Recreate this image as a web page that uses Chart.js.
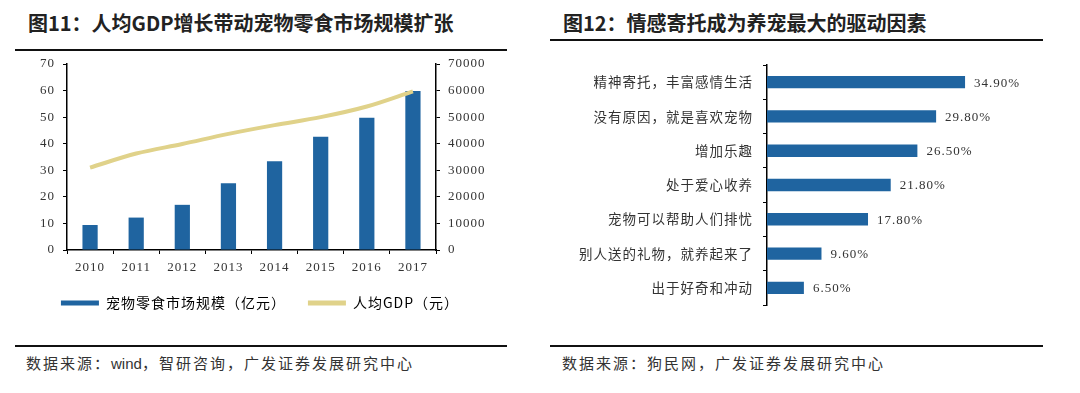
<!DOCTYPE html>
<html>
<head>
<meta charset="utf-8">
<script src="https://cdn.jsdelivr.net/npm/chart.js@4.4.0/dist/chart.umd.min.js"></script>
<style>
  body { margin: 0; background: #fff; width: 1080px; height: 393px; position: relative; overflow: hidden; }
  .title { position: absolute; top: 8px; font-family: "Noto Sans CJK SC", sans-serif; font-weight: bold; font-size: 20px; line-height: 30px; color: #222; white-space: nowrap; }
  .rule { position: absolute; height: 2px; background: #111; }
  .source { position: absolute; top: 352px; font-family: "Noto Sans CJK SC", sans-serif; font-size: 15px; line-height: 22px; letter-spacing: 2px; color: #333; white-space: nowrap; }
  .source b { font-family: "Liberation Sans", sans-serif; font-weight: normal; letter-spacing: 0; }
  canvas { position: absolute; }
</style>
</head>
<body>
<div class="title" style="left:28px">图11：人均GDP增长带动宠物零食市场规模扩张</div>
<div class="rule" style="left:15px; top:49px; width:492px"></div>
<canvas id="chart1" width="520" height="265" style="left:0; top:55px; width:520px; height:265px"></canvas>
<div class="rule" style="left:15px; top:345px; width:492px"></div>
<div class="source" style="left:26px">数据来源：<b>wind</b>，智研咨询，广发证券发展研究中心</div>

<div class="title" style="left:563px">图12：情感寄托成为养宠最大的驱动因素</div>
<div class="rule" style="left:550px; top:39px; width:493px"></div>
<canvas id="chart2" width="540" height="260" style="left:540px; top:55px; width:540px; height:260px"></canvas>
<div class="rule" style="left:550px; top:345px; width:493px"></div>
<div class="source" style="left:562px">数据来源：狗民网，广发证券发展研究中心</div>

<script>
// chart 1 data
const years = ['2010', '2011', '2012', '2013', '2014', '2015', '2016', '2017'];
const snackMarket = [9.4, 12.2, 17.0, 25.1, 33.4, 42.6, 49.8, 59.8];
const gdpPerCapita = [31000, 36300, 39900, 43700, 47000, 50000, 54000, 59700];
const leftTicks = [0, 10, 20, 30, 40, 50, 60, 70];
const rightTicks = [0, 10000, 20000, 30000, 40000, 50000, 60000, 70000];
const seriesNames = ['宠物零食市场规模（亿元）', '人均GDP（元）'];

// chart 2 data
const reasons = ['精神寄托，丰富感情生活', '没有原因，就是喜欢宠物', '增加乐趣', '处于爱心收养',
                 '宠物可以帮助人们排忧', '别人送的礼物，就养起来了', '出于好奇和冲动'];
const reasonShare = [34.9, 29.8, 26.5, 21.8, 17.8, 9.6, 6.5];

const BLUE = '#1f64a0';
const GOLD = '#e0d28a';
const serif = '"Liberation Serif", "Times New Roman", serif';
const cjk = '"Noto Sans CJK SC", sans-serif';

// letter spacing like the original print layout
const spacingPlugin = {
    id: 'spacing',
    beforeUpdate(chart) { chart.ctx.letterSpacing = '1px'; },
    beforeDraw(chart) { chart.ctx.letterSpacing = '1px'; }
};

const valueLabels = {
    id: 'valueLabels',
    afterDatasetsDraw(chart) {
        const ctx = chart.ctx;
        const meta = chart.getDatasetMeta(0);
        ctx.save();
        ctx.letterSpacing = '1px';
        ctx.font = '13px ' + serif;
        ctx.fillStyle = '#333';
        ctx.textAlign = 'left';
        ctx.textBaseline = 'middle';
        meta.data.forEach(function(bar, i) {
            ctx.fillText(reasonShare[i].toFixed(2) + '%', bar.x + 9, bar.y + 1);
        });
        ctx.restore();
    }
};

function axisGrid() {
    return { drawOnChartArea: false, drawTicks: true, tickLength: 4, color: '#000', lineWidth: 1 };
}

// fixed axis width, and no extra top/bottom room for the end labels
function fixWidth(w) {
    return function(scale) {
        scale.width = w;
        scale.paddingTop = 0;
        scale.paddingBottom = 0;
    };
}

new Chart(document.getElementById('chart1'), {
    type: 'bar',
    data: {
        labels: years,
        datasets: [
            {
                label: seriesNames[0],
                data: snackMarket,
                backgroundColor: BLUE,
                categoryPercentage: 1,
                barPercentage: 0.33,
                yAxisID: 'y',
                order: 1
            },
            {
                type: 'line',
                label: seriesNames[1],
                data: gdpPerCapita,
                borderColor: GOLD,
                backgroundColor: GOLD,
                borderWidth: 4,
                pointRadius: 0,
                cubicInterpolationMode: 'monotone',
                yAxisID: 'y2',
                order: 0
            }
        ]
    },
    options: {
        responsive: false,
        animation: false,
        layout: { padding: { top: 9, left: 0, right: 0, bottom: 0 } },
        scales: {
            x: {
                grid: Object.assign(axisGrid(), { offset: true }),
                border: { color: '#000', width: 1.5 },
                ticks: { font: { family: serif, size: 13 }, color: '#333', padding: 6, maxRotation: 0 },
                afterFit(scale) { scale.height = 24; scale.paddingLeft = 0; scale.paddingRight = 0; }
            },
            y: {
                position: 'left',
                min: 0, max: 70,
                afterBuildTicks(scale) { scale.ticks = leftTicks.map(v => ({ value: v })); },
                grid: axisGrid(),
                border: { color: '#000', width: 1.5 },
                ticks: { font: { family: serif, size: 13 }, color: '#333', padding: 8 },
                afterFit: fixWidth(67)
            },
            y2: {
                position: 'right',
                min: 0, max: 70000,
                afterBuildTicks(scale) { scale.ticks = rightTicks.map(v => ({ value: v })); },
                grid: axisGrid(),
                border: { color: '#000', width: 1.5 },
                ticks: { font: { family: serif, size: 13 }, color: '#333', padding: 8, callback: v => String(v) },
                afterFit: fixWidth(84)
            }
        },
        plugins: {
            legend: {
                position: 'bottom',
                labels: {
                    boxWidth: 38,
                    boxHeight: 5,
                    padding: 22,
                    color: '#333',
                    font: { family: cjk, size: 14 },
                    generateLabels: function(chart) {
                        return chart.data.datasets.map(function(ds, i) {
                            return { text: ds.label, fillStyle: i === 0 ? BLUE : GOLD, strokeStyle: i === 0 ? BLUE : GOLD,
                                     lineWidth: 0, hidden: false, datasetIndex: i };
                        });
                    }
                }
            },
            tooltip: { enabled: false }
        }
    },
    plugins: [spacingPlugin]
});

new Chart(document.getElementById('chart2'), {
    type: 'bar',
    data: {
        labels: reasons,
        datasets: [{
            data: reasonShare,
            backgroundColor: BLUE,
            categoryPercentage: 1,
            barPercentage: 0.36
        }]
    },
    options: {
        indexAxis: 'y',
        responsive: false,
        animation: false,
        layout: { padding: { top: 10, bottom: 10, left: 0, right: 86 } },
        scales: {
            x: { display: false, min: 0, max: 40 },
            y: {
                grid: Object.assign(axisGrid(), { offset: true }),
                border: { color: '#000', width: 1.5 },
                ticks: { font: { family: cjk, size: 13.5 }, color: '#333', padding: 10 },
                afterFit: fixWidth(227)
            }
        },
        plugins: {
            legend: { display: false },
            tooltip: { enabled: false }
        }
    },
    plugins: [spacingPlugin, valueLabels]
});
</script>
</body>
</html>
